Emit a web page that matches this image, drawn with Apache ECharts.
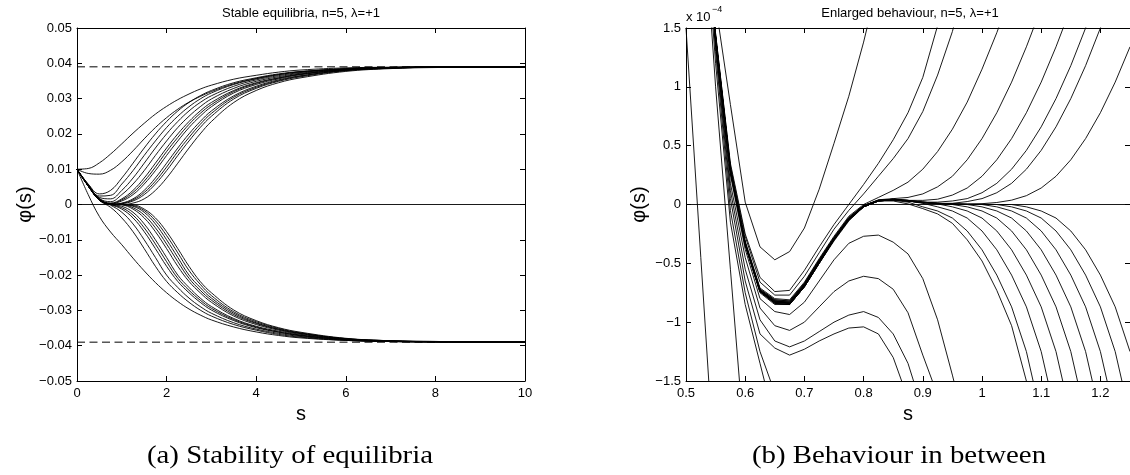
<!DOCTYPE html>
<html><head><meta charset="utf-8">
<script src="https://cdn.jsdelivr.net/npm/echarts@6/dist/echarts.min.js"></script>
<style>html,body{margin:0;padding:0;background:#fff}#c{width:1130px;height:475px}</style>
</head><body><div id="c"></div>
<script>
const _ = null;
// ---------- Panel (a): Stable equilibria ----------
const sA = [0,0.25,0.5,0.75,1,1.25,1.5,1.75,2,2.25,2.5,2.75,3,3.5,4,4.5,5,6,7,8,10];
const upA  = [0.0100,0.0102,0.0118,0.0143,0.0172,0.0202,0.0230,0.0256,0.0278,0.0297,0.0313,0.0327,0.0338,0.0355,0.0366,0.0375,0.0381,0.0387,0.0389,0.0390,0.0390];
const upB  = [0.0100,0.0088,0.0086,0.0097,0.0121,0.0152,0.0186,0.0218,0.0246,0.0270,0.0290,0.0306,0.0320,0.0342,0.0357,0.0368,0.0376,0.0385,0.0388,0.0390,0.0390];
const upC3 = [0.0100,0.0058,0.0030,0.0040,0.0075,0.0117,0.0160,0.0200,0.0235,0.0265,0.0289,0.0308,0.0323,0.0345,0.0359,0.0370,0.0377,0.0384,0.0388,0.0389,0.0390];
const upC1 = [0.0100,0.0057,0.0024,0.0026,0.0058,0.0096,0.0139,0.0180,0.0218,0.0250,0.0277,0.0299,0.0316,0.0340,0.0356,0.0368,0.0376,0.0384,0.0388,0.0389,0.0390];
const upC2 = [0.0100,0.0056,0.0020,0.0016,0.0040,0.0075,0.0117,0.0160,0.0200,0.0235,0.0265,0.0289,0.0308,0.0335,0.0353,0.0365,0.0374,0.0384,0.0388,0.0389,0.0390];
const upD1 = [0.0100,0.0054,0.0017,0.0008,0.0028,0.0058,0.0096,0.0139,0.0180,0.0218,0.0250,0.0277,0.0299,0.0329,0.0349,0.0362,0.0372,0.0383,0.0388,0.0389,0.0390];
const upD2 = [0.0100,0.0054,0.0016,0.0004,0.0016,0.0040,0.0075,0.0117,0.0160,0.0200,0.0235,0.0265,0.0289,0.0323,0.0345,0.0359,0.0370,0.0382,0.0387,0.0389,0.0390];
const upD2b= [0.0100,0.0054,0.0016,0.0003,0.0013,0.0034,0.0066,0.0106,0.0150,0.0190,0.0227,0.0258,0.0283,0.0320,0.0343,0.0358,0.0369,0.0382,0.0387,0.0389,0.0390];
const upD3 = [0.0100,0.0053,0.0015,0.0002,0.0010,0.0028,0.0058,0.0096,0.0139,0.0180,0.0218,0.0250,0.0277,0.0316,0.0340,0.0356,0.0368,0.0381,0.0387,0.0389,0.0390];
const upD4 = [0.0100,0.0053,0.0015,0.0001,0.0004,0.0016,0.0040,0.0075,0.0117,0.0160,0.0200,0.0235,0.0265,0.0308,0.0335,0.0353,0.0365,0.0380,0.0386,0.0389,0.0390];
const upD4b= [0.0100,0.0053,0.0014,0.0000,0.0003,0.0013,0.0034,0.0066,0.0106,0.0150,0.0190,0.0227,0.0258,0.0304,0.0332,0.0351,0.0364,0.0380,0.0386,0.0389,0.0390];
const upD5 = [0.0100,0.0053,0.0014,0.0000,0.0002,0.0010,0.0028,0.0058,0.0096,0.0139,0.0180,0.0218,0.0250,0.0299,0.0329,0.0349,0.0362,0.0379,0.0386,0.0389,0.0390];
const upD6 = [0.0100,0.0052,0.0014,0.0000,0.0000,0.0004,0.0016,0.0040,0.0075,0.0117,0.0160,0.0200,0.0235,0.0289,0.0323,0.0345,0.0359,0.0377,0.0385,0.0388,0.0390];
const loE  = [0.0100,0.0028,-0.0034,-0.0078,-0.0114,-0.0152,-0.0188,-0.0221,-0.0250,-0.0275,-0.0296,-0.0313,-0.0327,-0.0347,-0.0361,-0.0371,-0.0378,-0.0385,-0.0388,-0.0389,-0.0390];
const loF1 = [0.0100,0.0053,0.0012,-0.0008,-0.0038,-0.0077,-0.0125,-0.0175,-0.0218,-0.0250,-0.0277,-0.0299,-0.0316,-0.0340,-0.0356,-0.0368,-0.0376,-0.0385,-0.0388,-0.0389,-0.0390];
const loF2 = [0.0100,0.0053,0.0012,-0.0002,-0.0022,-0.0055,-0.0100,-0.0150,-0.0200,-0.0235,-0.0265,-0.0289,-0.0308,-0.0335,-0.0353,-0.0365,-0.0374,-0.0384,-0.0388,-0.0389,-0.0390];
const loG1a= [0.0100,0.0053,0.0013,0.0000,-0.0013,-0.0038,-0.0077,-0.0125,-0.0175,-0.0218,-0.0250,-0.0277,-0.0299,-0.0329,-0.0349,-0.0362,-0.0372,-0.0383,-0.0388,-0.0389,-0.0390];
const loG1b= [0.0100,0.0053,0.0013,0.0000,-0.0009,-0.0030,-0.0066,-0.0112,-0.0162,-0.0209,-0.0243,-0.0271,-0.0294,-0.0326,-0.0347,-0.0361,-0.0371,-0.0383,-0.0388,-0.0389,-0.0390];
const loG1c= [0.0100,0.0053,0.0013,0.0000,-0.0005,-0.0022,-0.0055,-0.0100,-0.0150,-0.0200,-0.0235,-0.0265,-0.0289,-0.0323,-0.0345,-0.0359,-0.0370,-0.0382,-0.0387,-0.0389,-0.0390];
const loG2a= [0.0100,0.0053,0.0013,0.0001,-0.0001,-0.0013,-0.0038,-0.0077,-0.0125,-0.0175,-0.0218,-0.0250,-0.0277,-0.0316,-0.0340,-0.0356,-0.0368,-0.0381,-0.0387,-0.0389,-0.0390];
const loG2b= [0.0100,0.0053,0.0013,0.0001,0.0000,-0.0009,-0.0030,-0.0066,-0.0112,-0.0162,-0.0209,-0.0243,-0.0271,-0.0312,-0.0337,-0.0354,-0.0366,-0.0381,-0.0386,-0.0389,-0.0390];
const loG2c= [0.0100,0.0053,0.0013,0.0001,0.0000,-0.0005,-0.0022,-0.0055,-0.0100,-0.0150,-0.0200,-0.0235,-0.0265,-0.0308,-0.0335,-0.0353,-0.0365,-0.0380,-0.0386,-0.0389,-0.0390];
const loG2d= [0.0100,0.0053,0.0013,0.0001,0.0000,-0.0003,-0.0017,-0.0046,-0.0088,-0.0137,-0.0187,-0.0226,-0.0258,-0.0304,-0.0332,-0.0351,-0.0364,-0.0380,-0.0386,-0.0388,-0.0390];
const loG2e= [0.0100,0.0053,0.0013,0.0001,0.0000,-0.0001,-0.0013,-0.0038,-0.0077,-0.0125,-0.0175,-0.0218,-0.0250,-0.0299,-0.0329,-0.0349,-0.0362,-0.0379,-0.0386,-0.0388,-0.0390];
const equilibria = [0.039, -0.039];
const curvesA = [upA,upB,upC3,upC1,upC2,upD1,upD2,upD2b,upD3,upD4,upD4b,upD5,upD6,
                 loE,loF1,loF2,loG1a,loG1b,loG1c,loG2a,loG2b,loG2c,loG2d,loG2e];

// ---------- Panel (b): Enlarged behaviour (values in units of 1e-4) ----------
const sB = [0.5,0.525,0.55,0.575,0.6,0.625,0.65,0.675,0.7,0.725,0.75,0.775,0.8,0.825,0.85,0.875,0.9,0.925,0.95,0.975,1.0,1.025,1.05,1.075,1.1,1.125,1.15,1.175,1.2,1.225,1.25];
const R1 = [1.5,-0.45,-2.4];
const R2 = [_,2.8,1.0,-0.55,-2.1];
const R3 = [_,2.9,1.2,-0.15,-0.85,-1.35,-1.85];
const R4 = [_,3.0,1.3,-0.05,-0.75,-1.25,-1.6,-2.0];
const L4 = [_,3.1,1.35,0.05,-0.65,-1.1,-1.22,-1.28,-1.23,-1.16,-1.1,-1.05,-1.04,-1.1,-1.3,-1.65,-2.2];
const L3 = [_,3.1,1.38,0.12,-0.55,-0.98,-1.16,-1.21,-1.16,-1.08,-1.0,-0.94,-0.91,-0.96,-1.1,-1.35,-1.75,-2.3];
const L2 = [_,3.15,1.4,0.18,-0.45,-0.88,-1.03,-1.07,-1.0,-0.87,-0.74,-0.65,-0.61,-0.63,-0.72,-0.92,-1.28,-1.62,-2.1];
const L1 = [_,3.2,1.42,0.25,-0.38,-0.8,-0.91,-0.935,-0.83,-0.65,-0.47,-0.33,-0.27,-0.26,-0.32,-0.42,-0.63,-0.98,-1.45,-1.95];
const M1 = [_,3.2,1.7,0.85,0.02,-0.36,-0.47,-0.4,-0.2,0.13,0.52,0.92,1.38,1.9];
const U1 = [_,3.2,1.45,0.35,-0.25,-0.62,-0.74,-0.73,-0.56,-0.36,-0.17,0.0,0.17,0.35,0.55,0.78,1.08,1.52,2.1];
const U2 = [_,3.2,1.45,0.33,-0.27,-0.66,-0.77,-0.77,-0.61,-0.41,-0.21,-0.05,0.09,0.24,0.39,0.56,0.79,1.1,1.47,1.95];
const U3 = [_,3.2,1.43,0.31,-0.31,-0.71,-0.8,-0.81,-0.66,-0.46,-0.27,-0.1,0.0,0.06,0.12,0.19,0.3,0.45,0.64,0.87,1.15,1.46,1.8];
const U4 = [_,3.2,1.42,0.3,-0.32,-0.72,-0.81,-0.82,-0.67,-0.47,-0.28,-0.11,-0.01,0.04,0.05,0.06,0.09,0.15,0.24,0.38,0.56,0.78,1.04,1.34,1.67,2.1];
const U5 = [_,3.2,1.42,0.3,-0.33,-0.73,-0.82,-0.83,-0.68,-0.48,-0.29,-0.12,-0.01,0.035,0.045,0.035,0.035,0.045,0.08,0.14,0.24,0.38,0.56,0.78,1.04,1.34,1.67,2.1];
const U6 = [_,3.2,1.41,0.29,-0.33,-0.73,-0.83,-0.84,-0.69,-0.49,-0.29,-0.12,-0.01,0.035,0.045,0.035,0.02,0.02,0.03,0.05,0.1,0.18,0.3,0.46,0.66,0.9,1.18,1.5,1.85];
const U7 = [_,3.2,1.41,0.29,-0.34,-0.74,-0.83,-0.84,-0.69,-0.49,-0.3,-0.13,-0.02,0.03,0.04,0.03,0.02,0.01,0.01,0.025,0.05,0.1,0.18,0.3,0.46,0.66,0.9,1.18,1.5,1.85];
const U8 = [_,3.2,1.4,0.28,-0.34,-0.74,-0.84,-0.85,-0.7,-0.5,-0.3,-0.13,-0.02,0.03,0.04,0.03,0.015,0.01,0.005,0.003,0.007,0.017,0.037,0.075,0.14,0.24,0.38,0.56,0.78,1.04,1.34];
const D1 = [_,3.2,1.42,0.3,-0.33,-0.73,-0.82,-0.84,-0.69,-0.49,-0.3,-0.13,-0.02,0.03,0.03,0.005,-0.035,-0.08,-0.16,-0.3,-0.48,-0.73,-1.03,-1.5,-2.1];
const D2 = [_,3.2,1.42,0.3,-0.33,-0.73,-0.82,-0.83,-0.68,-0.48,-0.29,-0.12,-0.01,0.035,0.035,0.02,-0.02,-0.055,-0.115,-0.225,-0.385,-0.6,-0.87,-1.25,-1.8];
const D3 = [_,3.2,1.42,0.3,-0.33,-0.72,-0.81,-0.82,-0.67,-0.47,-0.28,-0.11,-0.01,0.035,0.04,0.03,0.01,-0.02,-0.055,-0.115,-0.225,-0.385,-0.6,-0.87,-1.25,-1.8];
const D4 = [_,3.2,1.42,0.3,-0.33,-0.73,-0.82,-0.83,-0.68,-0.48,-0.29,-0.12,-0.01,0.035,0.045,0.035,0.02,0.005,-0.02,-0.055,-0.115,-0.225,-0.385,-0.6,-0.87,-1.25,-1.8];
const D5 = [_,3.2,1.41,0.29,-0.33,-0.73,-0.83,-0.84,-0.69,-0.49,-0.29,-0.12,-0.01,0.035,0.045,0.035,0.02,0.01,0.0,-0.02,-0.055,-0.115,-0.225,-0.385,-0.6,-0.87,-1.25,-1.8];
const D6 = [_,3.2,1.41,0.29,-0.34,-0.74,-0.83,-0.84,-0.69,-0.49,-0.3,-0.13,-0.02,0.03,0.04,0.03,0.02,0.01,0.005,0.0,-0.02,-0.055,-0.115,-0.225,-0.385,-0.6,-0.87,-1.25,-1.8];
const D7 = [_,3.2,1.41,0.29,-0.34,-0.74,-0.84,-0.85,-0.7,-0.5,-0.3,-0.13,-0.02,0.03,0.04,0.03,0.015,0.01,0.005,0.002,0.0,-0.02,-0.055,-0.115,-0.225,-0.385,-0.6,-0.87,-1.25,-1.8];
const D8 = [_,3.2,1.4,0.28,-0.34,-0.74,-0.84,-0.85,-0.7,-0.5,-0.3,-0.13,-0.02,0.03,0.04,0.03,0.015,0.008,0.004,0.002,0.001,0.0,-0.02,-0.055,-0.115,-0.225,-0.385,-0.6,-0.87,-1.25,-1.8];
const D9 = [_,3.2,1.4,0.28,-0.35,-0.75,-0.85,-0.85,-0.7,-0.5,-0.31,-0.14,-0.02,0.03,0.04,0.03,0.015,0.008,0.004,0.002,0.001,0.0,0.0,-0.02,-0.055,-0.115,-0.225,-0.385,-0.6,-0.87,-1.25];
const curvesB = [R1,R2,R3,R4,L4,L3,L2,L1,M1,U1,U2,U3,U4,U5,U6,U7,U8,D1,D2,D3,D4,D5,D6,D7,D8,D9];

// ---------- axes / texts ----------
const axA = {xMin:0, xMax:10, xStep:2, yMin:-0.05, yMax:0.05, yStep:0.01};
const axB = {xMin:0.5, xMax:1.25, xStep:0.1, yMin:-1.5, yMax:1.5, yStep:0.5};
const titles = ['Stable equilibria, n=5, λ=+1', 'Enlarged behaviour, n=5, λ=+1'];
const captions = ['(a) Stability of equilibria', '(b) Behaviour in between'];
const xName = 's', yName = 'φ(s)';

const SANS = '"Liberation Sans", Arial, sans-serif';
const SERIF = '"Liberation Serif", "Times New Roman", serif';
const fmt = d => v => { const r = Math.round(v * d) / d; return r === 0 ? '0' : String(r).replace('-', '\u2212'); };

function xAx(grid, a, pos, labels, f) {
  return { type:'value', gridIndex:grid, position:pos, min:a.xMin, max:a.xMax, interval:a.xStep,
    axisLine:{show:true, onZero:false, lineStyle:{color:'#000', width:1}},
    axisTick:{show:true, inside:true, length:5, lineStyle:{color:'#000'}},
    splitLine:{show:false},
    axisLabel:{show:labels, color:'#000', fontSize:13, fontFamily:SANS, margin:6, formatter:f, showMaxLabel: grid===0},
    name: labels ? xName : '', nameLocation:'middle', nameGap:18,
    nameTextStyle:{fontSize:20, fontFamily:SANS, color:'#000', verticalAlign:'top'} };
}
function yAx(grid, a, pos, labels, f, gap) {
  return { type:'value', gridIndex:grid, position:pos, min:a.yMin, max:a.yMax, interval:a.yStep,
    axisLine:{show:true, onZero:false, lineStyle:{color:'#000', width:1}},
    axisTick:{show:true, inside:true, length:5, lineStyle:{color:'#000'}},
    splitLine:{show:false},
    axisLabel:{show:labels, color:'#000', fontSize:13, fontFamily:SANS, margin:5, formatter:f},
    name: labels ? yName : '', nameLocation:'middle', nameRotate:90, nameGap:gap,
    nameTextStyle:{fontSize:20, fontFamily:SANS, color:'#000'} };
}

function line(xs, ys, xi, yi, smooth, dashed) {
  return { type:'line', xAxisIndex:xi, yAxisIndex:yi, symbol:'none', showSymbol:false, silent:true,
    smooth: smooth, clip:true, connectNulls:false,
    lineStyle:{color:'#000', width:dashed ? 1 : 0.9, type: dashed ? [8,4.5] : 'solid'},
    data: xs.map((x, i) => [x, ys[i] === undefined ? null : ys[i]]) };
}

const series = [];
const spanA = [sA[0], sA[sA.length - 1]];
const spanB = [sB[0], axB.xMax];
// zero lines and dashed equilibrium levels
series.push(line(spanA, [0, 0], 0, 0, false));
equilibria.forEach(v => series.push(line(spanA, [v, v], 0, 0, false, true)));
series.push(line(spanB, [0, 0], 2, 2, false));
curvesA.forEach(c => series.push(line(sA, c, 0, 0, 0.4)));
curvesB.forEach(c => series.push(line(sB, c, 2, 2, false)));

const txt = (x, y, text, size, family, align, sx) => ({ type:'text', x:x, y:y, silent:true, scaleX: sx || 1,
  style:{ text:text, fontSize:size, fontFamily:family, fill:'#000', align:align || 'center', verticalAlign:'middle' } });

const option = {
  animation:false,
  backgroundColor:'#fff',
  grid:[ {left:77, top:28, width:448, height:353, containLabel:false},
         {left:686, top:28, width:448, height:353, containLabel:false} ],
  xAxis:[ xAx(0, axA, 'bottom', true, fmt(1)), xAx(0, axA, 'top', false),
          xAx(1, axB, 'bottom', true, fmt(100)), xAx(1, axB, 'top', false) ],
  yAxis:[ yAx(0, axA, 'left', true, fmt(100), 33), yAx(0, axA, 'right', false),
          yAx(1, axB, 'left', true, fmt(10), 37), yAx(1, axB, 'right', false) ],
  series: series,
  graphic:[
    txt(301, 13, titles[0], 13, SANS),
    txt(910, 13, titles[1], 13, SANS),
    txt(686, 17, 'x 10', 13, SANS, 'left'),
    txt(712, 10, '\u22124', 9, SANS, 'left'),
    txt(290, 456, captions[0], 26, SERIF, 'center', 1.11),
    txt(899, 456, captions[1], 26, SERIF, 'center', 1.11)
  ]
};
const chart = echarts.init(document.getElementById('c'), null, {renderer:'canvas'});
chart.setOption(option);
</script></body></html>
